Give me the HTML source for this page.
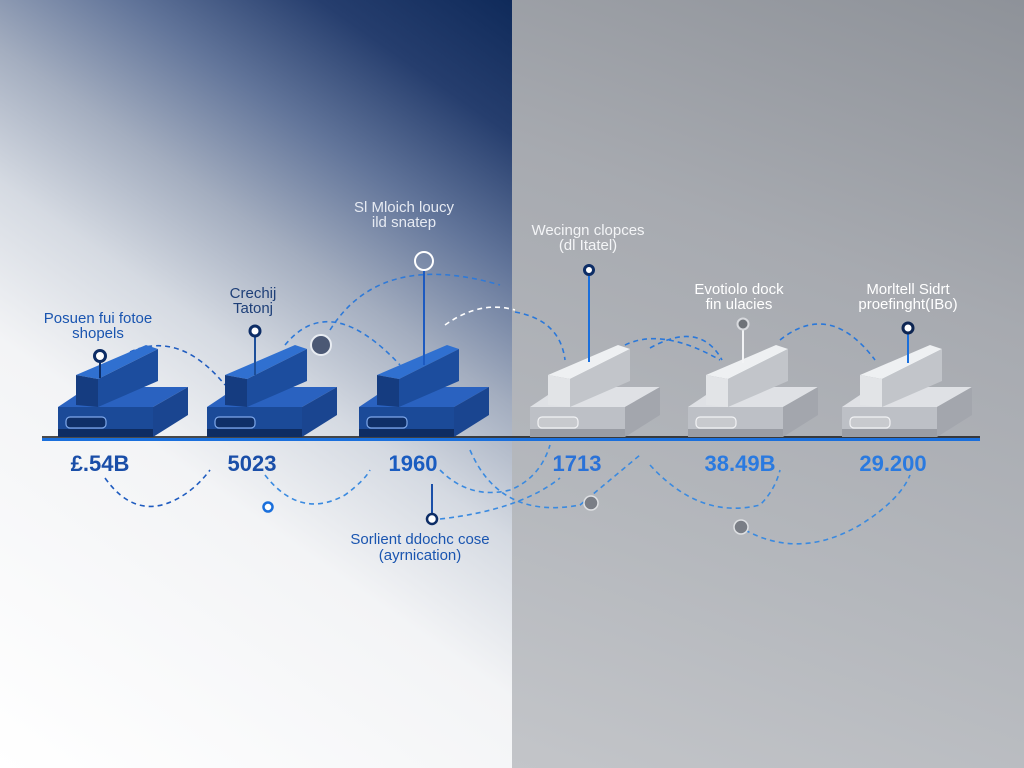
<!DOCTYPE html>
<html><head><meta charset="utf-8"><style>
html,body{margin:0;padding:0;width:1024px;height:768px;overflow:hidden}
body{position:relative;font-family:"Liberation Sans",sans-serif}
#l{position:absolute;left:0;top:0;width:512px;height:768px;background:linear-gradient(35deg,#ffffff 0%,#f3f4f6 38%,#d5dae2 52%,#a3adbf 64%,#62759a 76%,#263e6e 88%,#0f2a5a 100%)}
#r{position:absolute;left:512px;top:0;width:512px;height:768px;background:linear-gradient(200deg,#8e9299 0%,#a7aab0 35%,#b5b8bd 70%,#c3c5c9 100%)}
svg{position:absolute;left:0;top:0}
</style></head><body>
<div id="l"></div><div id="r"></div>
<svg width="1024" height="768" viewBox="0 0 1024 768">
<defs>
<g id="devB">
<polygon points="0,50 30,30 130,30 95,50" fill="#2a62c0"/>
<polygon points="95,50 130,30 130,58 95,80" fill="#1a4590"/>
<rect x="0" y="50" width="95" height="30" fill="#1b4a98"/>
<rect x="0" y="72" width="95" height="8" fill="#0e2c62"/>
<rect x="8" y="60" width="40" height="11" rx="4" fill="#0f2f68" stroke="#7fa8ea" stroke-width="1.2"/>
<polygon points="18,18 88,-12 100,-8 40,22" fill="#3070d0"/>
<polygon points="40,22 100,-8 100,24 40,50" fill="#1c4d9e"/>
<polygon points="18,18 40,22 40,50 18,48" fill="#153c80"/>
</g>
<g id="devG">
<polygon points="0,50 30,30 130,30 95,50" fill="#dfe1e5"/>
<polygon points="95,50 130,30 130,58 95,80" fill="#a3a6ad"/>
<rect x="0" y="50" width="95" height="30" fill="#bdc0c6"/>
<rect x="0" y="72" width="95" height="8" fill="#9a9da4"/>
<rect x="8" y="60" width="40" height="11" rx="4" fill="#c8cace" stroke="#f2f3f5" stroke-width="1.2"/>
<polygon points="18,18 88,-12 100,-8 40,22" fill="#eef0f2"/>
<polygon points="40,22 100,-8 100,24 40,50" fill="#c2c5ca"/>
<polygon points="18,18 40,22 40,50 18,48" fill="#e2e4e7"/>
</g>
</defs>
<g fill="none" stroke-width="1.6" stroke-dasharray="5,4">
<path d="M130,352 Q180,330 225,385" stroke="#1f5cc0"/>
<path d="M285,345 Q330,290 400,365" stroke="#2f7ad8"/>
<path d="M330,330 Q380,250 500,285" stroke="#2f7ad8"/>
<path d="M445,325 Q480,300 515,310" stroke="#ffffff"/>
<path d="M515,312 Q560,320 565,360" stroke="#2a78da"/>
<path d="M610,355 Q650,320 720,360" stroke="#2a78da"/>
<path d="M650,348 Q700,320 722,360" stroke="#2a78da"/>
<path d="M780,340 Q830,300 875,360" stroke="#2a78da"/>
<path d="M105,478 Q135,520 175,500 Q195,490 210,470" stroke="#1f5cc0"/>
<path d="M265,475 Q300,520 345,495 Q365,480 370,470" stroke="#3a8ae0"/>
<path d="M440,470 Q470,500 510,490 Q540,478 550,445" stroke="#3a8ae0"/>
<path d="M470,450 Q500,520 580,505 Q610,480 640,455" stroke="#3a8ae0"/>
<path d="M440,519 Q520,510 560,478" stroke="#3a8ae0"/>
<path d="M650,465 Q700,520 760,505 Q775,490 780,470" stroke="#3a8ae0"/>
<path d="M745,530 Q800,560 860,525 Q900,500 910,475" stroke="#3a8ae0"/>
</g>
<line x1="42" y1="437" x2="980" y2="437" stroke="#111" stroke-width="1.5"/>
<line x1="42" y1="439.5" x2="980" y2="439.5" stroke="#1a6fdc" stroke-width="3"/>
<use href="#devB" x="58" y="357"/>
<use href="#devB" x="207" y="357"/>
<use href="#devB" x="359" y="357"/>
<use href="#devG" x="530" y="357"/>
<use href="#devG" x="688" y="357"/>
<use href="#devG" x="842" y="357"/>
<g stroke-width="2">
<line x1="100" y1="362" x2="100" y2="378" stroke="#0d2d66"/>
<circle cx="100" cy="356" r="5.5" fill="#fff" stroke="#0d2d66" stroke-width="3"/>
<line x1="255" y1="337" x2="255" y2="375" stroke="#1d4f9a"/>
<circle cx="255" cy="331" r="5" fill="#fff" stroke="#0d2d66" stroke-width="3"/>
<line x1="424" y1="270" x2="424" y2="365" stroke="#1d5ac0"/>
<circle cx="424" cy="261" r="9" fill="none" stroke="#fff" stroke-width="2"/>
<circle cx="321" cy="345" r="10" fill="#4b5874" stroke="#e8ecf2" stroke-width="2"/>
<line x1="589" y1="276" x2="589" y2="362" stroke="#1a6fdc"/>
<circle cx="589" cy="270" r="4.5" fill="#fff" stroke="#0d2d66" stroke-width="3"/>
<line x1="743" y1="330" x2="743" y2="363" stroke="#f2f3f5"/>
<circle cx="743" cy="324" r="5.5" fill="#6e7278" stroke="#d8dade" stroke-width="2"/>
<line x1="908" y1="334" x2="908" y2="363" stroke="#1a6fdc"/>
<circle cx="908" cy="328" r="5" fill="#fff" stroke="#0d2552" stroke-width="3"/>
<circle cx="268" cy="507" r="4.5" fill="#fff" stroke="#1a6fdc" stroke-width="2.5"/>
<line x1="432" y1="513" x2="432" y2="484" stroke="#1a4fa8"/>
<circle cx="432" cy="519" r="5" fill="#fff" stroke="#0d2d66" stroke-width="2.5"/>
<circle cx="591" cy="503" r="7" fill="#7a7e86" stroke="#dfe1e4" stroke-width="1.5"/>
<circle cx="741" cy="527" r="7" fill="#7a7e86" stroke="#dfe1e4" stroke-width="1.5"/>
</g>
<g font-family="Liberation Sans, sans-serif" font-size="22" text-anchor="middle" font-weight="bold">
<text x="100" y="471" fill="#1a4ea8">£.54B</text>
<text x="252" y="471" fill="#1a4ea8">5023</text>
<text x="413" y="471" fill="#1a5cc0">1960</text>
<text x="577" y="471" fill="#2a72d8">1713</text>
<text x="740" y="471" fill="#2a7ae0">38.49B</text>
<text x="893" y="471" fill="#2a7ae0">29.200</text>
</g>
<g font-family="Liberation Sans, sans-serif" font-size="15" text-anchor="middle">
<text x="98" y="323" fill="#1a55b0">Posuen fui fotoe</text>
<text x="98" y="338" fill="#1a55b0">shopels</text>
<text x="253" y="298" fill="#1e3f78">Crechij</text>
<text x="253" y="313" fill="#1e3f78">Tatonj</text>
<text x="404" y="212" fill="#e6eaf2">Sl Mloich loucy</text>
<text x="404" y="227" fill="#e6eaf2">ild snatep</text>
<text x="588" y="235" fill="#f4f5f7">Wecingn clopces</text>
<text x="588" y="250" fill="#f4f5f7">(dl Itatel)</text>
<text x="739" y="294" fill="#ffffff">Evotiolo dock</text>
<text x="739" y="309" fill="#ffffff">fin ulacies</text>
<text x="908" y="294" fill="#ffffff">Morltell Sidrt</text>
<text x="908" y="309" fill="#ffffff">proefinght(IBo)</text>
<text x="420" y="544" fill="#1a55b0">Sorlient ddochc cose</text>
<text x="420" y="560" fill="#1a55b0">(ayrnication)</text>
</g>
</svg>
</body></html>
